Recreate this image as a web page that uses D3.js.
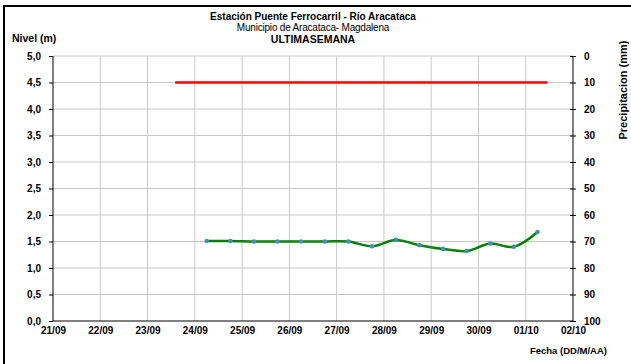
<!DOCTYPE html>
<html>
<head>
<meta charset="utf-8">
<script src="https://cdn.jsdelivr.net/npm/d3@7"></script>
<style>
body { margin: 0; background: #fff; }
text { font-family: "Liberation Sans", Arial, sans-serif; }
.tick text { font-weight: bold; font-size: 10px; fill: #000; }
.axis path, .axis line { stroke: #000; }
</style>
</head>
<body>
<script>
//Global variables
const width = 631;
const height = 364;
const plotLeft = 53, plotRight = 573, plotTop = 56, plotBottom = 321;
const parseTime = d3.timeParse("%d/%m %H");

//Data
const dayTicks = ["21/09","22/09","23/09","24/09","25/09","26/09","27/09","28/09","29/09","30/09","01/10","02/10"];
const levelTimes = ["24/09 06","24/09 18","25/09 06","25/09 18","26/09 06","26/09 18","27/09 06","27/09 18",
    "28/09 06","28/09 18","29/09 06","29/09 18","30/09 06","30/09 18","01/10 06"];
const levelValues = [1.51, 1.51, 1.50, 1.50, 1.50, 1.50, 1.50, 1.41, 1.53, 1.43, 1.36, 1.32, 1.46, 1.40, 1.68];
const rainTimes = ["23/09 14", "01/10 11"];
const rainValues = [10, 10];
const levelTicks = [0, 0.5, 1, 1.5, 2, 2.5, 3, 3.5, 4, 4.5, 5];
const rainTicks = [0, 10, 20, 30, 40, 50, 60, 70, 80, 90, 100];

const level = levelTimes.map((t, i) => ({date: parseTime(t), value: levelValues[i]}));
const rain = rainTimes.map((t, i) => ({date: parseTime(t), value: rainValues[i]}));
const dayDates = dayTicks.map(d => parseTime(d + " 00"));

//Scales
const xScale = d3.scaleTime()
    .domain([dayDates[0], dayDates[dayDates.length - 1]])
    .range([plotLeft, plotRight]);

const yScale = d3.scaleLinear()
    .domain([0, 5])
    .range([plotBottom, plotTop]);

const y2Scale = d3.scaleLinear()
    .domain([0, 100])
    .range([plotTop, plotBottom]);

//SVG element
const svg = d3.select("body")
    .append("svg")
    .attr("width", width)
    .attr("height", height);

//Outer frame
svg.append("rect")
    .attr("x", 4).attr("y", 6)
    .attr("width", 640).attr("height", 380)
    .attr("fill", "none")
    .attr("stroke", "#000")
    .attr("stroke-width", 2);

//Grid
svg.append("g")
    .selectAll("line")
    .data(levelTicks.slice(1))
    .join("line")
    .attr("x1", plotLeft).attr("x2", plotRight)
    .attr("y1", d => yScale(d)).attr("y2", d => yScale(d))
    .attr("stroke", "#c8c8c8");

svg.append("g")
    .selectAll("line")
    .data(dayDates.slice(1, -1))
    .join("line")
    .attr("x1", d => xScale(d)).attr("x2", d => xScale(d))
    .attr("y1", plotTop).attr("y2", plotBottom)
    .attr("stroke", "#c8c8c8");

//Axes
svg.append("g")
    .attr("class", "axis")
    .attr("transform", "translate(" + plotLeft + ",0)")
    .call(d3.axisLeft(yScale).tickValues(levelTicks).tickSize(4).tickPadding(8)
        .tickFormat(d => d3.format(".1f")(d).replace(".", ",")))
    .call(g => g.select(".domain").attr("d", "M0," + plotTop + "V" + plotBottom));

svg.append("g")
    .attr("class", "axis")
    .attr("transform", "translate(" + plotRight + ",0)")
    .call(d3.axisRight(y2Scale).tickValues(rainTicks).tickSize(3).tickPadding(8))
    .call(g => g.select(".domain").attr("d", "M0," + plotTop + "V" + plotBottom))
    .call(g => g.selectAll(".tick line").attr("x1", -3));

svg.append("g")
    .attr("class", "axis")
    .attr("transform", "translate(0," + plotBottom + ")")
    .call(d3.axisBottom(xScale).tickValues(dayDates).tickSize(0).tickPadding(6)
        .tickFormat(d3.timeFormat("%d/%m")))
    .call(g => g.select(".domain").attr("d", "M" + plotLeft + ",0H" + plotRight));

//Rain line
svg.append("path")
    .datum(rain)
    .attr("d", d3.line().x(d => xScale(d.date)).y(d => y2Scale(d.value)))
    .attr("fill", "none")
    .attr("stroke", "#ff0000")
    .attr("stroke-width", 2.5);

//Level line
svg.append("path")
    .datum(level)
    .attr("d", d3.line().curve(d3.curveCatmullRom).x(d => xScale(d.date)).y(d => yScale(d.value)))
    .attr("fill", "none")
    .attr("stroke", "#008000")
    .attr("stroke-width", 2.5);

svg.append("g")
    .selectAll("circle")
    .data(level)
    .join("circle")
    .attr("cx", d => xScale(d.date))
    .attr("cy", d => yScale(d.value))
    .attr("r", 2.3)
    .attr("fill", "#3f8fc0");

//Titles
svg.append("text")
    .attr("x", 313).attr("y", 20)
    .attr("text-anchor", "middle")
    .style("font-weight", "bold").style("font-size", "10px")
    .text("Estación Puente Ferrocarril - Río Aracataca");

svg.append("text")
    .attr("x", 313).attr("y", 31)
    .attr("text-anchor", "middle")
    .style("font-size", "10px").style("letter-spacing", "-0.2px")
    .text("Municipio de Aracataca- Magdalena");

svg.append("text")
    .attr("x", 313).attr("y", 43)
    .attr("text-anchor", "middle")
    .style("font-weight", "bold").style("font-size", "10.5px")
    .text("ULTIMASEMANA");

svg.append("text")
    .attr("x", 12).attr("y", 42)
    .style("font-weight", "bold").style("font-size", "10.5px")
    .text("Nivel (m)");

svg.append("text")
    .attr("transform", "translate(627,90) rotate(-90)")
    .attr("text-anchor", "middle")
    .style("font-weight", "bold").style("font-size", "11px")
    .text("Precipitacion (mm)");

svg.append("text")
    .attr("x", 607).attr("y", 354)
    .attr("text-anchor", "end")
    .style("font-weight", "bold").style("font-size", "9.5px")
    .text("Fecha (DD/M/AA)");
</script>
</body>
</html>
